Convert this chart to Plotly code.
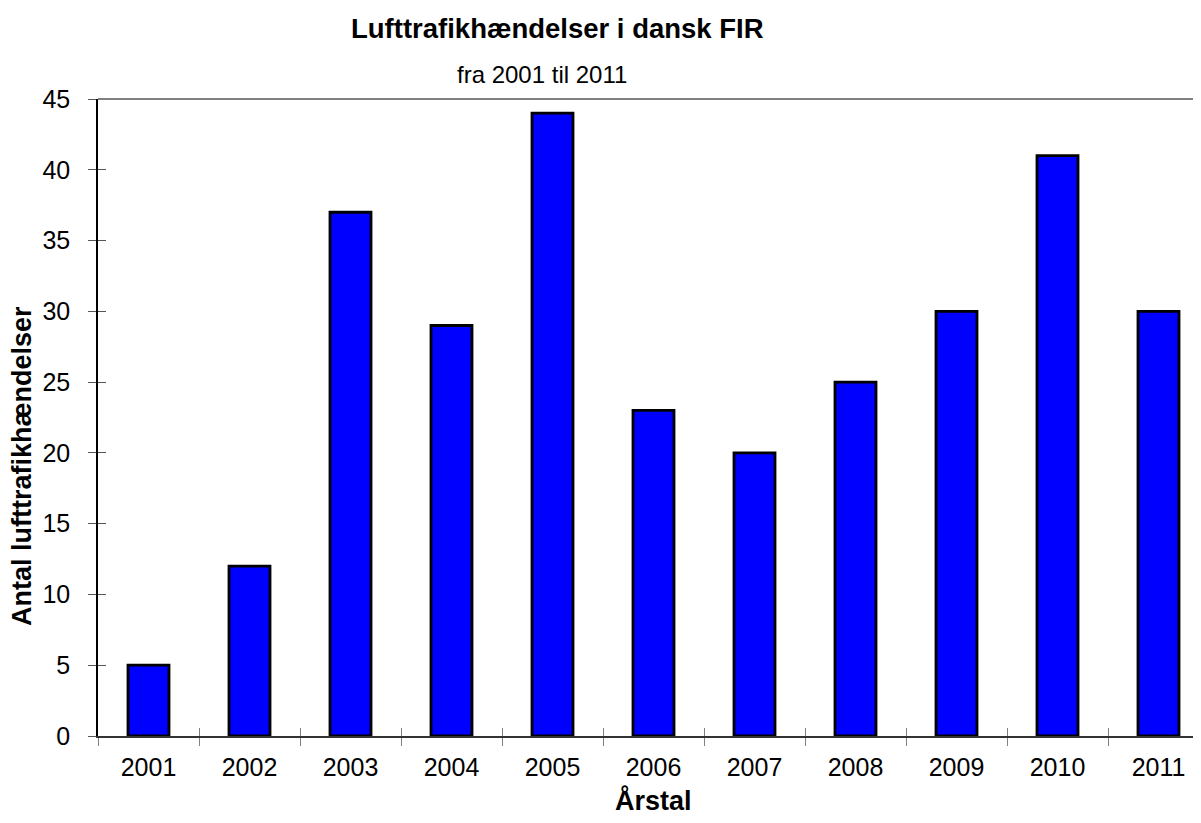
import plotly.graph_objects as go

years = ["2001", "2002", "2003", "2004", "2005", "2006", "2007", "2008", "2009", "2010", "2011"]
counts = [5, 12, 37, 29, 44, 23, 20, 25, 30, 41, 30]
y_ticks = [0, 5, 10, 15, 20, 25, 30, 35, 40, 45]

title_text = "Lufttrafikhændelser i dansk FIR"
subtitle_text = "fra 2001 til 2011"
x_title = "Årstal"
y_title = "Antal lufttrafikhændelser"

# The page body has an 8px default margin: size the figure so the page fits the window
OFF = 8
W, H = 1201 - 2 * OFF, 823 - 2 * OFF
L, T, R, B = 98 - OFF, 99 - OFF, 0, H - (736 - OFF)
PW, PH = W - L - R, H - T - B
FONT = "Liberation Sans, Arial, sans-serif"
x_range = [-0.5, -0.5 + PW / 101.0]
y_range = [0, 45]


def px_x(page_x):
    return (page_x - OFF - L) / PW


def px_y(page_y):
    return 1 - (page_y - OFF - T) / PH


fig = go.Figure()
fig.add_trace(go.Bar(
    x=years, y=counts,
    marker=dict(color="#0000FF", line=dict(color="#000000", width=2.8)),
    hoverinfo="x+y",
))
# empty trace so the overlay axes (inner tick halves) render
fig.add_trace(go.Scatter(x=[], y=[], xaxis="x2", yaxis="y2", showlegend=False))

fig.update_layout(
    width=W, height=H,
    margin=dict(l=L, r=R, t=T, b=B, autoexpand=False),
    paper_bgcolor="white", plot_bgcolor="white",
    font=dict(family=FONT, color="black", size=25),
    showlegend=False,
    bargap=0.594,
    xaxis=dict(
        type="category", categoryorder="array", categoryarray=years,
        range=x_range, tickson="boundaries",
        ticks="outside", ticklen=8, tickwidth=1, tickcolor="#808080",
        showline=True, linecolor="#333333", linewidth=1.5,
        showgrid=False, zeroline=False, automargin=False,
        tickfont=dict(size=25, family=FONT, color="black"),
        ticklabelstandoff=8,
    ),
    yaxis=dict(
        range=y_range, tickvals=y_ticks,
        ticks="outside", ticklen=8, tickwidth=1, tickcolor="#555555",
        showline=True, linecolor="#000000", linewidth=1.5,
        showgrid=False, zeroline=False, automargin=False,
        tickfont=dict(size=25, family=FONT, color="black"),
        ticklabelstandoff=13,
    ),
    xaxis2=dict(
        overlaying="x", anchor="y", range=x_range,
        tickvals=[i - 0.5 for i in range(len(years) + 1)],
        ticks="inside", ticklen=8, tickwidth=1, tickcolor="#808080",
        showticklabels=False, showline=False, showgrid=False, zeroline=False,
    ),
    yaxis2=dict(
        overlaying="y", anchor="x", range=y_range, tickvals=y_ticks,
        ticks="inside", ticklen=8, tickwidth=1, tickcolor="#555555",
        showticklabels=False, showline=False, showgrid=False, zeroline=False,
    ),
    shapes=[dict(type="line", xref="paper", yref="paper", x0=0, x1=1, y0=1, y1=1,
                 line=dict(color="#808080", width=2))],
    annotations=[
        dict(text="<b>" + title_text + "</b>", xref="paper", yref="paper",
             x=px_x(557), y=px_y(28),
             xanchor="center", yanchor="middle", showarrow=False,
             font=dict(size=27.5, family=FONT, color="black")),
        dict(text=subtitle_text, xref="paper", yref="paper",
             x=px_x(542), y=px_y(75),
             xanchor="center", yanchor="middle", showarrow=False,
             font=dict(size=24, family=FONT, color="black")),
        dict(text="<b>" + x_title + "</b>", xref="paper", yref="paper",
             x=px_x(653), y=px_y(800),
             xanchor="center", yanchor="middle", showarrow=False,
             font=dict(size=27, family=FONT, color="black")),
        dict(text="<b>" + y_title + "</b>", xref="paper", yref="paper",
             x=px_x(22), y=px_y(466),
             xanchor="center", yanchor="middle", textangle=-90, showarrow=False,
             font=dict(size=27, family=FONT, color="black")),
    ],
)

fig.write_html("out.html")
